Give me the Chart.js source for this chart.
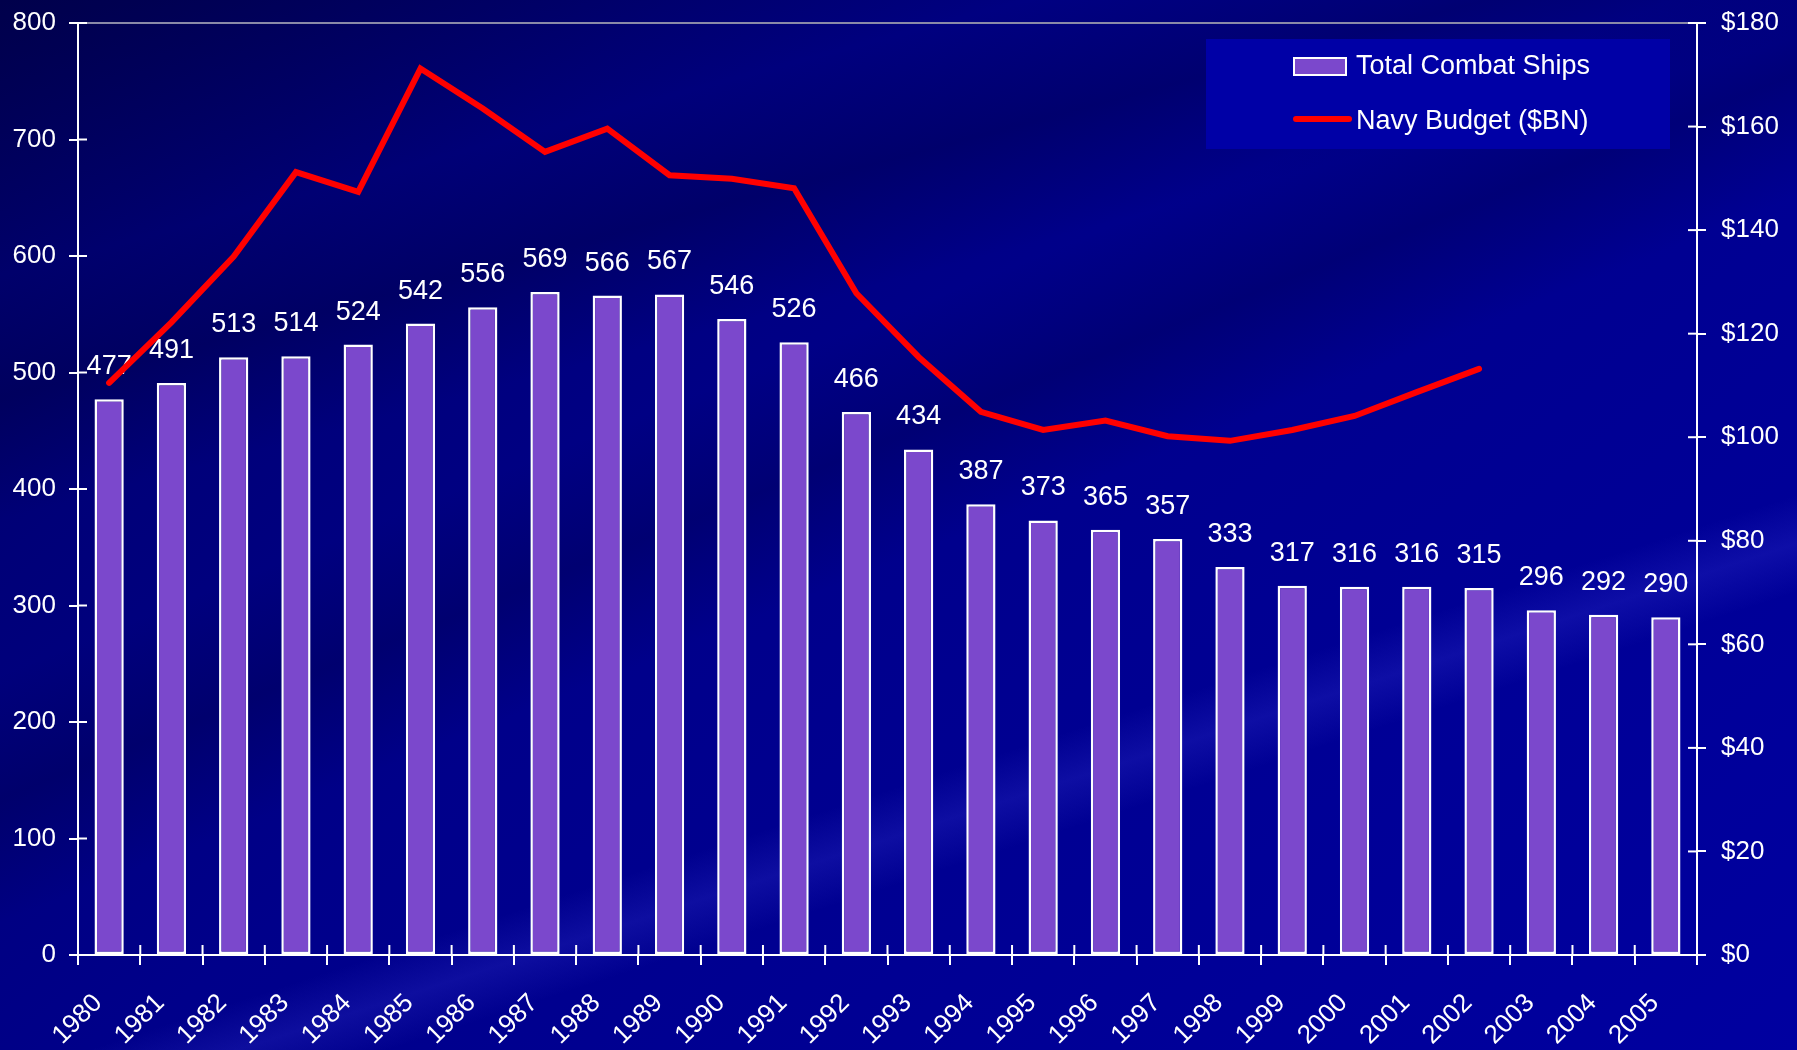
<!DOCTYPE html>
<html>
<head>
<meta charset="utf-8">
<script src="https://cdn.jsdelivr.net/npm/chart.js@4/dist/chart.umd.min.js"></script>
<style>
  html, body { margin: 0; padding: 0; }
  body {
    width: 1797px; height: 1050px; overflow: hidden;
    background:
      linear-gradient(162deg, rgba(255,255,255,0) 66%, rgba(70,70,230,0.2) 69%, rgba(255,255,255,0) 72%),
      linear-gradient(158deg, rgba(0,0,40,0) 38%, rgba(0,0,50,0.25) 45%, rgba(0,0,40,0) 52%),
      linear-gradient(165deg, rgba(0,0,40,0.35) 0%, rgba(0,0,40,0) 18%, rgba(0,0,40,0.25) 26%, rgba(0,0,40,0) 34%),
      linear-gradient(140deg, #00005e 0%, #000078 22%, #00008a 45%, #000096 75%, #0000a0 100%);
  }
  #wrap { width: 1797px; height: 1050px; position: relative; }
</style>
</head>
<body>
<div id="wrap"><canvas id="chart"></canvas></div>
<script>
const years = ["1980","1981","1982","1983","1984","1985","1986","1987","1988","1989",
  "1990","1991","1992","1993","1994","1995","1996","1997","1998","1999",
  "2000","2001","2002","2003","2004","2005"];

const combatShips = [477, 491, 513, 514, 524, 542, 556, 569, 566, 567,
  546, 526, 466, 434, 387, 373, 365, 357, 333, 317,
  316, 316, 315, 296, 292, 290];

// budget only runs to 2002
const navyBudget = [110.5, 122.2, 134.9, 151.2, 147.4, 171.2, 163.5, 155.1, 159.6, 150.6,
  149.9, 148.1, 127.8, 115.5, 104.9, 101.4, 103.2, 100.2, 99.3, 101.4,
  104.1, 108.7, 113.2, null, null, null];

const FONT = "'Liberation Sans', Arial, sans-serif";
const BAR_COLOR = "#7b48cc";
const LINE_COLOR = "#ff0000";

// ---------- PLUGINS ----------
// tick marks crossing the axis lines (inner half)
const crossTicks = {
  id: "crossTicks",
  afterDraw(chart) {
    const ctx = chart.ctx;
    const area = chart.chartArea;
    ctx.save();
    ctx.strokeStyle = "#ffffff";
    ctx.lineWidth = 2;
    const x = chart.scales.x;
    const step = x.getPixelForTick(1) - x.getPixelForTick(0);
    for (let i = 0; i <= x.ticks.length; i++) {
      const px = x.getPixelForTick(0) - step / 2 + i * step;
      ctx.beginPath();
      ctx.moveTo(px, area.bottom - 10);
      ctx.lineTo(px, area.bottom);
      ctx.stroke();
    }
    const y = chart.scales.y;
    y.ticks.forEach(t => {
      const py = y.getPixelForValue(t.value);
      ctx.beginPath();
      ctx.moveTo(area.left, py);
      ctx.lineTo(area.left + 9, py);
      ctx.stroke();
    });
    const y1 = chart.scales.y1;
    y1.ticks.forEach(t => {
      const py = y1.getPixelForValue(t.value);
      ctx.beginPath();
      ctx.moveTo(area.right - 9, py);
      ctx.lineTo(area.right, py);
      ctx.stroke();
    });
    ctx.restore();
  }
};

// value labels above the bars
const barLabels = {
  id: "barLabels",
  afterDatasetDraw(chart, args) {
    if (args.index !== 0) return;
    const ctx = chart.ctx;
    ctx.save();
    ctx.fillStyle = "#ffffff";
    ctx.font = "27px " + FONT;
    ctx.textAlign = "center";
    ctx.textBaseline = "alphabetic";
    args.meta.data.forEach((bar, i) => {
      ctx.fillText(String(combatShips[i]), bar.x, bar.y - 25);
    });
    ctx.restore();
  }
};

// legend box in the top right corner
const boxLegend = {
  id: "boxLegend",
  afterDraw(chart) {
    const ctx = chart.ctx;
    const ds = chart.data.datasets;
    ctx.save();
    ctx.fillStyle = "#0000a6";
    ctx.fillRect(1206, 39, 464, 110);

    ctx.fillStyle = ds[0].backgroundColor;
    ctx.fillRect(1294, 58, 52, 17);
    ctx.strokeStyle = "#ffffff";
    ctx.lineWidth = 2;
    ctx.strokeRect(1294, 58, 52, 17);

    ctx.strokeStyle = ds[1].borderColor;
    ctx.lineWidth = 6;
    ctx.lineCap = "round";
    ctx.beginPath();
    ctx.moveTo(1296, 119);
    ctx.lineTo(1349, 119);
    ctx.stroke();

    ctx.fillStyle = "#ffffff";
    ctx.font = "27px " + FONT;
    ctx.textAlign = "left";
    ctx.textBaseline = "middle";
    ctx.fillText(ds[0].label, 1356, 67);
    ctx.fillText(ds[1].label, 1356, 122);
    ctx.restore();
  }
};

const noPad = s => { s.paddingTop = 0; s.paddingBottom = 0; };

// ---------- CHART ----------
new Chart(document.getElementById("chart"), {
  type: "bar",
  data: {
    labels: years,
    datasets: [
      {
        type: "bar",
        label: "Total Combat Ships",
        data: combatShips,
        backgroundColor: BAR_COLOR,
        borderColor: "#ffffff",
        borderWidth: 2.5,
        borderSkipped: false,
        barPercentage: 0.47,
        categoryPercentage: 1,
        yAxisID: "y",
        order: 2
      },
      {
        type: "line",
        label: "Navy Budget ($BN)",
        data: navyBudget,
        borderColor: LINE_COLOR,
        borderWidth: 6,
        borderCapStyle: "round",
        borderJoinStyle: "miter",
        pointRadius: 0,
        tension: 0,
        yAxisID: "y1",
        order: 1
      }
    ]
  },
  options: {
    responsive: true,
    maintainAspectRatio: false,
    animation: false,
    layout: { padding: { top: 23, left: 0, right: 0, bottom: 0 } },
    plugins: {
      legend: { display: false },
      tooltip: { enabled: false }
    },
    scales: {
      x: {
        afterFit: s => { s.height = 95; s.paddingLeft = 0; s.paddingRight = 0; },
        border: { color: "#ffffff", width: 2 },
        grid: { offset: true, drawOnChartArea: false, color: "#ffffff", lineWidth: 2, tickLength: 10 },
        ticks: {
          color: "#ffffff",
          font: { family: FONT, size: 26 },
          maxRotation: 45,
          minRotation: 45,
          padding: 23,
          labelOffset: -11,
          autoSkip: false
        }
      },
      y: {
        position: "left",
        min: 0,
        max: 800,
        afterFit: s => { s.width = 78; noPad(s); },
        border: { color: "#ffffff", width: 2 },
        grid: {
          drawOnChartArea: true,
          color: c => c.tick && c.tick.value === 800 ? "#8a8aa8" : "rgba(0,0,0,0)",
          tickColor: "#ffffff",
          lineWidth: 2,
          tickLength: 9
        },
        ticks: {
          stepSize: 100,
          color: "#ffffff",
          font: { family: FONT, size: 26 },
          padding: 13
        }
      },
      y1: {
        position: "right",
        min: 0,
        max: 180,
        afterFit: s => { s.width = 100; noPad(s); },
        border: { color: "#ffffff", width: 2 },
        grid: { drawOnChartArea: false, tickColor: "#ffffff", lineWidth: 2, tickLength: 9 },
        ticks: {
          stepSize: 20,
          color: "#ffffff",
          font: { family: FONT, size: 26 },
          padding: 15,
          callback: v => "$" + v
        }
      }
    }
  },
  plugins: [barLabels, crossTicks, boxLegend]
});
</script>
</body>
</html>
